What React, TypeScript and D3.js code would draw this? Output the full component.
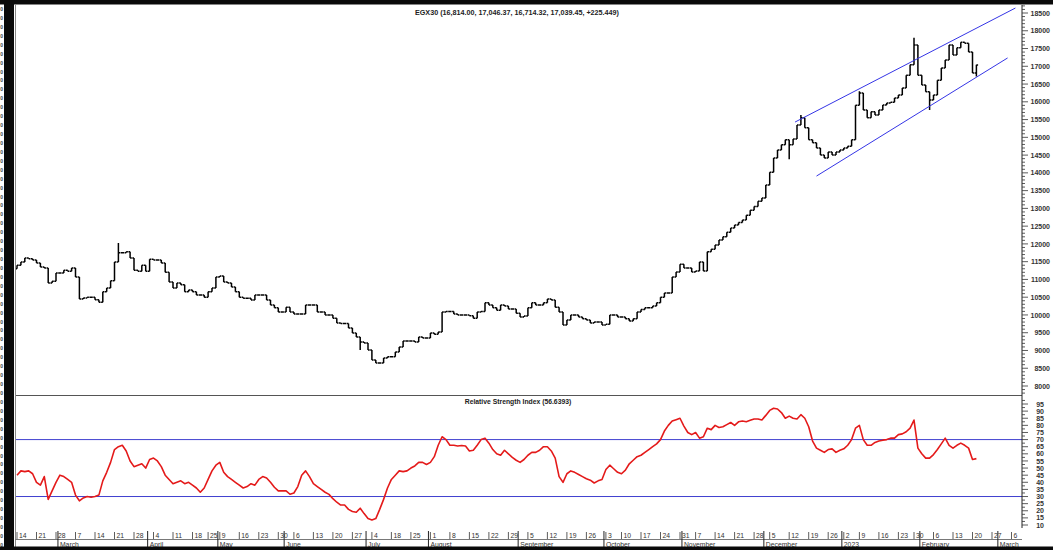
import * as d3 from "d3";

const title = "EGX30 (16,814.00, 17,046.37, 16,714.32, 17,039.45, +225.449)";
const rsiTitle = "Relative Strength Index (56.6393)";

// Monday of each week shown on the date axis and the trading days in it
const weekStarts = [
  "2022-02-14", "2022-02-21", "2022-02-28",
  "2022-03-07", "2022-03-14", "2022-03-21", "2022-03-28",
  "2022-04-04", "2022-04-11", "2022-04-18", "2022-04-25",
  "2022-05-09", "2022-05-16", "2022-05-23", "2022-05-30",
  "2022-06-06", "2022-06-13", "2022-06-20", "2022-06-27",
  "2022-07-04", "2022-07-18", "2022-07-25",
  "2022-08-01", "2022-08-08", "2022-08-15", "2022-08-22", "2022-08-29",
  "2022-09-05", "2022-09-12", "2022-09-19", "2022-09-26",
  "2022-10-03", "2022-10-10", "2022-10-17", "2022-10-24", "2022-10-31",
  "2022-11-07", "2022-11-14", "2022-11-21", "2022-11-28",
  "2022-12-05", "2022-12-12", "2022-12-19", "2022-12-26",
  "2023-01-02", "2023-01-09", "2023-01-16", "2023-01-23", "2023-01-30",
  "2023-02-06", "2023-02-13", "2023-02-20", "2023-02-27",
  "2023-03-06",
];
const weekDays = [
  5, 5, 5,
  5, 5, 5, 5,
  5, 5, 4, 3,
  5, 5, 5, 4,
  5, 5, 5, 5,
  5, 5, 5,
  5, 5, 5, 5, 5,
  5, 5, 5, 5,
  4, 5, 5, 5, 4,
  5, 5, 5, 4,
  5, 5, 5, 4,
  4, 5, 5, 4, 5,
  5, 5, 5, 5,
  5,
];

// daily closes
const firstOpen = 11300;
const closes = [
  11400, 11490, 11600, 11580, 11550, 11460, 11350, 11320, 10900, 10950,
  11180, 11180, 11260, 11230, 11320, 11070, 10450, 10480, 10500, 10500,
  10430, 10360, 10650, 10760, 10960, 11490, 11750, 11750, 11780, 11600,
  11260, 11230, 11400, 11230, 11570, 11550, 11550, 11460, 11200, 10930,
  10760, 10900, 10850, 10650, 10700, 10650, 10560, 10560, 10500, 10650,
  10760, 11070, 11100, 10930, 10900, 10790, 10650, 10500, 10470, 10470,
  10420, 10560, 10560, 10560, 10420, 10280, 10200, 10080, 10080, 10220,
  10080, 10030, 10030, 10030, 10280, 10280, 10280, 10080, 10080, 10000,
  10000, 9910, 9770, 9760, 9760, 9630, 9490, 9380, 9240, 9210,
  9010, 8730, 8650, 8650, 8790, 8820, 8820, 8960, 9100, 9270,
  9270, 9270, 9240, 9380, 9350, 9350, 9490, 9460, 9520, 10080,
  10100, 10100, 10030, 10000, 10000, 10000, 9980, 9910, 10080, 10100,
  10340, 10280, 10200, 10130, 10280, 10250, 10170, 10170, 10050, 9940,
  9970, 10200, 10340, 10280, 10280, 10340, 10450, 10420, 10220, 10080,
  9720, 9860, 10000, 10000, 9940, 9890, 9860, 9770, 9800, 9800,
  9720, 9740, 10000, 10000, 9940, 9940, 9890, 9830, 9890, 10080,
  10150, 10200, 10200, 10250, 10340, 10500, 10620, 10620, 11070, 11210,
  11430, 11320, 11320, 11210, 11240, 11490, 11240, 11780, 11850, 11970,
  12110, 12200, 12330, 12450, 12530, 12600, 12670, 12810, 12950, 13050,
  13200, 13290, 13660, 14020, 14420, 14640, 14790, 14930, 14790, 14950,
  15350, 15550, 15270, 14930, 14850, 14700, 14500, 14420, 14590, 14500,
  14590, 14640, 14700, 14750, 14930, 15900, 16250, 15770, 15550, 15720,
  15630, 15770, 15910, 15970, 15990, 16110, 16190, 16390, 16750, 17040,
  17600, 16750, 16470, 16280, 16050, 16190, 16610, 16950, 17180, 17600,
  17320, 17520, 17680, 17650, 17400, 16814, 17039.45,
];
// [day, high, low] for bars whose range goes past open/close
const wicks = [
  [26, 12025, 11490],
  [88, 9380, 9010],
  [198, 14930, 14380],
  [201, 15630, 15350],
  [216, 16300, 15900],
  [230, 17800, 17040],
  [234, 16280, 15770],
  [246, 17046.37, 16714.32],
];

const rsi = [
  45, 48, 47.5, 48, 46, 40, 38, 44, 28, 34,
  40, 45, 44, 42, 40, 31, 27, 29, 30, 29.5,
  30, 31, 41, 47, 54, 63, 65, 66, 62, 55,
  51, 52, 53, 50, 56, 57, 55, 51, 45, 42,
  39, 40, 41, 39, 40, 38, 36, 33, 36, 42,
  48, 52, 54, 47, 44, 42, 40, 38, 36, 37,
  39, 38, 42, 44, 43, 40, 36.5, 34, 34, 34,
  31.6, 32.5, 37, 45, 48, 44, 39, 37, 35, 33,
  31.5, 28.5, 26, 24, 24, 21, 19.5, 19, 21.8, 18,
  14.5, 13.5, 14.5, 21, 28, 36, 42, 45, 48, 47.5,
  48, 50, 51.5, 54, 54, 52.5, 54, 58, 66, 72,
  70, 66, 66, 65.5, 65.8, 65.5, 62, 62.5, 66, 70,
  71, 67.5, 63, 60, 59, 62.5, 60, 57.5, 55.5, 54,
  56, 59, 61, 61, 62.5, 65, 65, 62, 57, 44,
  40, 46, 48, 47, 45.5, 44, 42.5, 41.5, 39.5, 41,
  42, 49, 52, 49.5, 47, 46, 48.5, 53, 55.5, 58,
  59, 61, 63, 65, 67, 70, 76, 80, 83, 84,
  85, 79.5, 75, 73.5, 75, 71, 72, 78, 77, 80,
  78.5, 79, 80.5, 82, 80, 82.5, 83, 82.5, 83.5, 84.5,
  84.5, 83.8, 87, 90.5, 92, 91.5, 89, 85, 86.5, 85,
  84.5, 87.5, 85, 79, 69, 64, 62.5, 61, 63, 63.5,
  61, 62.5, 63.5, 66, 70, 78, 80, 70, 66, 66,
  68, 69, 69.6, 70, 71, 71, 73.5, 74, 75.5, 78,
  83.7, 64, 60, 57, 57, 59.5, 63, 67, 71, 66,
  64, 66, 67.5, 66, 64, 56, 56.64,
];

// trend channel: [day, price] end points
const channelUpper = [[199.5, 15430], [256, 18640]];
const channelLower = [[205, 13910], [254, 17235]];
const rsiLevels = [70, 30];

const priceTicks = d3.range(8000, 18501, 500);
const rsiTicks = d3.range(10, 96, 5);

const font = "'Liberation Sans', Arial, sans-serif";

export default function App() {
  const W = 1053;
  const H = 550;
  const left = 15.5;
  const right = 1022;
  const priceTop = 5;
  const priceBottom = 395.5;
  const rsiBottom = 528;

  const x = d3.scaleLinear().domain([0, 245]).range([17, 972.5]);
  const step = x(1) - x(0);
  const yP = d3.scaleLinear().domain([8000, 18500]).range([386, 13]);
  const yR = d3.scaleLinear().domain([10, 95]).range([525, 404]);

  const weekIdx = Array.from(d3.cumsum([0, ...weekDays])).slice(0, weekDays.length);
  const parse = d3.utcParse("%Y-%m-%d");
  const weekDates = weekStarts.map((s) => parse(s) as Date);
  const dayFmt = d3.utcFormat("%-d");

  const monthMarks = d3
    .utcMonth.range(new Date(Date.UTC(2022, 2, 1)), new Date(Date.UTC(2023, 3, 1)))
    .map((m) => {
      let k = -1;
      weekDates.forEach((w, i) => {
        if (+w <= +m) k = i;
      });
      const off = d3.utcDay.count(weekDates[k], m);
      const idx = off >= weekDays[k] ? weekIdx[k + 1] : weekIdx[k] + off;
      const label = m.getUTCMonth() === 0 ? String(m.getUTCFullYear()) : d3.utcFormat("%B")(m);
      return { idx, label };
    });

  const bars = closes.map((c, i) => {
    const o = i === 0 ? firstOpen : closes[i - 1];
    let h = Math.max(o, c);
    let l = Math.min(o, c);
    const w = wicks.find((d) => d[0] === i);
    if (w) {
      h = Math.max(h, w[1]);
      l = Math.min(l, w[2]);
    }
    return { i, o, h, l, c };
  });

  const barPath = bars
    .map((b) => {
      const cx = x(b.i);
      return `M${cx},${yP(b.h)}V${yP(b.l)}M${cx - 1.7},${yP(b.o)}H${cx}M${cx},${yP(b.c)}H${cx + 1.7}`;
    })
    .join("");

  const rsiLine = d3
    .line<number>()
    .x((_, i) => x(i))
    .y((d) => yR(d))(rsi);

  const chanLine = d3
    .line<number[]>()
    .x((d) => x(d[0]))
    .y((d) => yP(d[1]));

  // cut-off remnants of a neighbouring axis at the far left
  const edgeDigits = d3.range(0, 61).map((k) => 9 + k * 8.93);

  return (
    <svg
      width={W}
      height={H}
      style={{ position: "fixed", left: 0, top: 0, display: "block" }}
      fontFamily={font}
    >
      <defs>
        <clipPath id="pricePlot">
          <rect x={left} y={priceTop} width={right - left} height={priceBottom - priceTop} />
        </clipPath>
        <clipPath id="rsiPlot">
          <rect x={left} y={priceBottom} width={right - left} height={rsiBottom - priceBottom} />
        </clipPath>
      </defs>
      <rect width={W} height={H} fill="#fff" />

      {edgeDigits.map((yy, k) => (
        <text key={k} x={0.2} y={yy + 2} fontSize={5} fontWeight="bold" fill="#444">
          0
        </text>
      ))}

      {/* title */}
      <text x={517} y={15} fontSize={7.2} fontWeight="bold" fill="#222" textAnchor="middle">
        {title}
      </text>

      {/* price bars */}
      <g clipPath="url(#pricePlot)">
        <path d={barPath} fill="none" stroke="#000" strokeWidth={1.5} />
        <path d={chanLine(channelUpper) ?? ""} stroke="#3535e6" strokeWidth={1} fill="none" />
        <path d={chanLine(channelLower) ?? ""} stroke="#3535e6" strokeWidth={1} fill="none" />
      </g>

      {/* rsi panel */}
      <text x={518} y={403.5} fontSize={6.8} fontWeight="bold" fill="#222" textAnchor="middle">
        {rsiTitle}
      </text>
      {rsiLevels.map((v) => (
        <line key={v} x1={left} x2={right} y1={yR(v)} y2={yR(v)} stroke="#4040d0" strokeWidth={1} />
      ))}
      <g clipPath="url(#rsiPlot)">
        <path d={rsiLine ?? ""} fill="none" stroke="#e41a1a" strokeWidth={1.6} strokeLinejoin="round" />
      </g>

      {/* frame lines */}
      <line x1={left} x2={right} y1={priceBottom} y2={priceBottom} stroke="#555" strokeWidth={1} />
      <line x1={left} x2={left} y1={priceTop} y2={547} stroke="#888" strokeWidth={1} />
      <line x1={right} x2={right} y1={priceTop} y2={rsiBottom} stroke="#222" strokeWidth={1} />

      {/* price axis */}
      {d3.range(7800, 18701, 100).map((v) => (
        <line key={v} x1={right} x2={right + (v % 500 === 0 ? 6 : 3)} y1={yP(v)} y2={yP(v)} stroke="#333" strokeWidth={0.8} />
      ))}
      {priceTicks.map((v) => (
        <text key={v} x={1050} y={yP(v) + 2.6} fontSize={7} fontWeight="bold" fill="#333" textAnchor="end">
          {v}
        </text>
      ))}

      {/* rsi axis */}
      {d3.range(10, 97.6, 2.5).map((v) => (
        <line key={v} x1={right} x2={right + (v % 5 === 0 ? 6 : 3)} y1={yR(v)} y2={yR(v)} stroke="#333" strokeWidth={0.8} />
      ))}
      {rsiTicks.map((v) => (
        <text key={v} x={1044} y={yR(v) + 2.6} fontSize={7} fontWeight="bold" fill="#333" textAnchor="end">
          {v}
        </text>
      ))}

      {/* date axis */}
      <line x1={left} x2={right} y1={539.5} y2={539.5} stroke="#555" strokeWidth={0.8} />
      {weekIdx.map((idx, k) => (
        <g key={k}>
          <line x1={x(idx)} x2={x(idx)} y1={532} y2={539} stroke="#333" strokeWidth={0.8} />
          <text x={x(idx) + 2} y={538} fontSize={6.8} fill="#333">
            {dayFmt(weekDates[k])}
          </text>
        </g>
      ))}
      {monthMarks.map((m) => (
        <g key={m.label + m.idx}>
          <line x1={x(m.idx) - step / 2} x2={x(m.idx) - step / 2} y1={531} y2={547} stroke="#222" strokeWidth={1} />
          <text x={x(m.idx) - step / 2 + 2} y={546.5} fontSize={6.8} fill="#333">
            {m.label}
          </text>
        </g>
      ))}

      {/* black border */}
      <rect x={0} y={0} width={W} height={4.5} fill="#0a0a0a" />
      <rect x={0} y={546.5} width={W} height={H - 546.5} fill="#0a0a0a" />
      <rect x={4} y={0} width={10} height={H} fill="#0a0a0a" />
    </svg>
  );
}
